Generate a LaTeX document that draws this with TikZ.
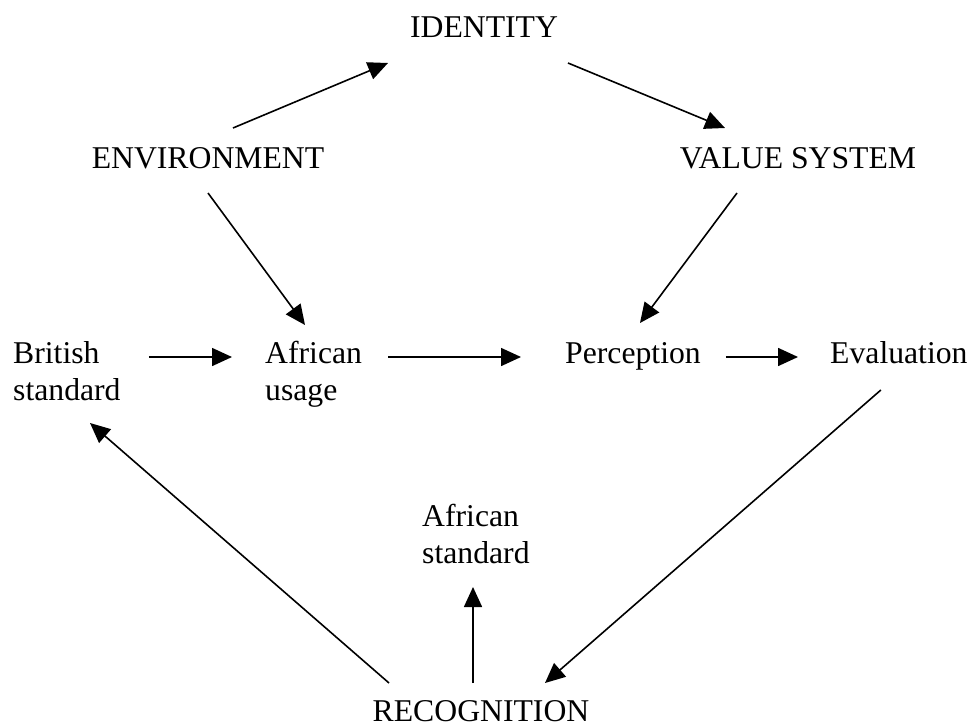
\documentclass[tikz,border=0pt]{standalone}
\usepackage{fontspec}
\setmainfont{Liberation Serif}
\usepackage{tikz}
\usetikzlibrary{arrows.meta}
\tikzset{
 lbl/.style={inner sep=0, align=left, font=\fontsize{31.7}{37}\selectfont},
 arr/.style={black, line width=1.6pt, -{Triangle[length=20pt,width=18pt]}}
}

\begin{document}
\begin{tikzpicture} [x=1pt, y=-1pt]
\useasboundingbox (0,0) rectangle (970,725);
\node[lbl, anchor=base] (id) at (484,38) {IDENTITY};
\node[lbl, anchor=base] (env) at (208,168) {ENVIRONMENT};
\node[lbl, anchor=base] (val) at (798,168) {VALUE SYSTEM};
\node[lbl, anchor=base west] (brit) at (13,400) {British\\standard};
\node[lbl, anchor=base west] (afu) at (265,400) {African\\usage};
\node[lbl, anchor=base west] (perc) at (565,363) {Perception};
\node[lbl, anchor=base west] (eval) at (830,363) {Evaluation};
\node[lbl, anchor=base west] (afs) at (422,563) {African\\standard};
\node[lbl, anchor=base] (rec) at (481,721) {RECOGNITION};

\draw[arr] ([shift={(25,-40)}]env.base) -- ([shift={(-96,25)}]id.base);
\draw[arr] ([shift={(84,25)}]id.base) -- ([shift={(-73,-40)}]val.base);
\draw[arr] ([shift={(0,25)}]env.base) -- ([shift={(40,-75)}]afu.base west);
\draw[arr] ([shift={(-61,25)}]val.base) -- ([shift={(7,-40)}]perc.base);
\draw[arr] ([shift={(28,-43)}]brit.base east) -- ([shift={(-33,-43)}]afu.base west);
\draw[arr] ([shift={(26,-43)}]afu.base east) -- ([shift={(-44,-6)}]perc.base west);
\draw[arr] ([shift={(25,-6)}]perc.base east) -- ([shift={(-32,-6)}]eval.base west);
\draw[arr] ([shift={(-18,27)}]eval.base) -- ([shift={(64,-38)}]rec.base);
\draw[arr] ([shift={(-92,-38)}]rec.base) -- ([shift={(77,23)}]brit.base west);
\draw[arr] ([shift={(-8,-38)}]rec.base) -- ([shift={(51,24)}]afs.base west);
\end{tikzpicture}
\end{document}
